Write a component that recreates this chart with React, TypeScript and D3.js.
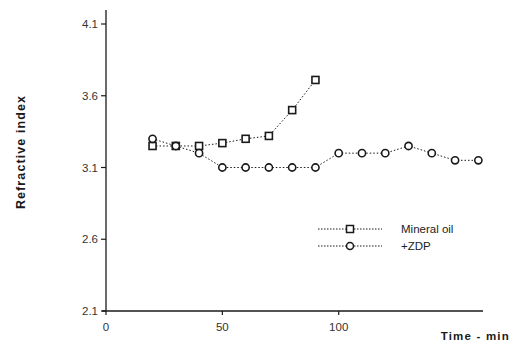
import React from 'react';
import * as d3 from 'd3';

const times = [20, 30, 40, 50, 60, 70, 80, 90, 100, 110, 120, 130, 140, 150, 160];
const mineralOil = [3.25, 3.25, 3.25, 3.27, 3.30, 3.32, 3.50, 3.71];
const zdp = [3.30, 3.25, 3.20, 3.10, 3.10, 3.10, 3.10, 3.10, 3.20, 3.20, 3.20, 3.25, 3.20, 3.15, 3.15];
const xTicks = [0, 50, 100];
const yTicks = [2.1, 2.6, 3.1, 3.6, 4.1];
const seriesNames = ['Mineral oil', '+ZDP'];

const W = 527;
const H = 348;

const App = () => {
  const x = d3.scaleLinear().domain([0, 162]).range([106, 483]);
  const y = d3.scaleLinear().domain([2.1, 4.1]).range([311, 24]);

  const line = d3.line<number>()
    .x((d, i) => x(times[i]))
    .y(d => y(d));

  const ink = '#1a1a1a';
  const sq = 7;

  return (
    <svg width={W} height={H} style={{ position: 'absolute', left: 0, top: 0, background: '#fff' }}
      fontFamily="'Liberation Sans', Arial, sans-serif">
      {/* axes */}
      <line x1={x(0)} x2={x(0)} y1={y(2.1)} y2={10} stroke={ink} strokeWidth={1.3} />
      <line x1={x(0) - 4} x2={x(162)} y1={y(2.1)} y2={y(2.1)} stroke={ink} strokeWidth={1.3} />
      {yTicks.map(t => (
        <g key={t}>
          <line x1={x(0) - 5} x2={x(0)} y1={y(t)} y2={y(t)} stroke={ink} strokeWidth={1.2} />
          <text x={x(0) - 8} y={y(t)} dy="0.35em" textAnchor="end" fontSize={11.5} fill="#333">
            {t.toFixed(1)}
          </text>
        </g>
      ))}
      {xTicks.map(t => (
        <g key={t}>
          <line x1={x(t)} x2={x(t)} y1={y(2.1)} y2={y(2.1) + 4} stroke={ink} strokeWidth={1.2} />
          <text x={x(t)} y={y(2.1) + 20} textAnchor="middle" fontSize={11.5} fill="#333">{t}</text>
        </g>
      ))}
      <text transform={`translate(25,152) rotate(-90)`} textAnchor="middle" fontSize={12.5}
        fontWeight="bold" letterSpacing={1.1} fill={ink}>Refractive index</text>
      <text x={510} y={340} textAnchor="end" fontSize={11.5} fontWeight="bold" letterSpacing={1.2}
        fill={ink}>Time - min</text>

      {/* series */}
      <path d={line(mineralOil) || ''} fill="none" stroke={ink} strokeWidth={1} strokeDasharray="1.5,2" />
      <path d={line(zdp) || ''} fill="none" stroke={ink} strokeWidth={1} strokeDasharray="1.5,2" />
      {mineralOil.map((v, i) => (
        <rect key={'s' + i} x={x(times[i]) - sq / 2} y={y(v) - sq / 2} width={sq} height={sq}
          fill="#fff" stroke={ink} strokeWidth={1.6} />
      ))}
      {zdp.map((v, i) => (
        <circle key={'c' + i} cx={x(times[i])} cy={y(v)} r={3.6} fill="#fff" stroke={ink} strokeWidth={1.6} />
      ))}

      {/* legend */}
      {seriesNames.map((name, i) => {
        const ly = 229 + i * 17;
        return (
          <g key={name}>
            <line x1={318} x2={382} y1={ly} y2={ly} stroke={ink} strokeWidth={1} strokeDasharray="1.5,1.5" />
            {i === 0
              ? <rect x={350 - 3.5} y={ly - 3.5} width={7} height={7} fill="#fff" stroke={ink} strokeWidth={1.5} />
              : <circle cx={350} cy={ly} r={3.5} fill="#fff" stroke={ink} strokeWidth={1.5} />}
            <text x={401} y={ly} dy="0.35em" fontSize={11.5} fill="#222">{name}</text>
          </g>
        );
      })}
    </svg>
  );
};

export default App;
